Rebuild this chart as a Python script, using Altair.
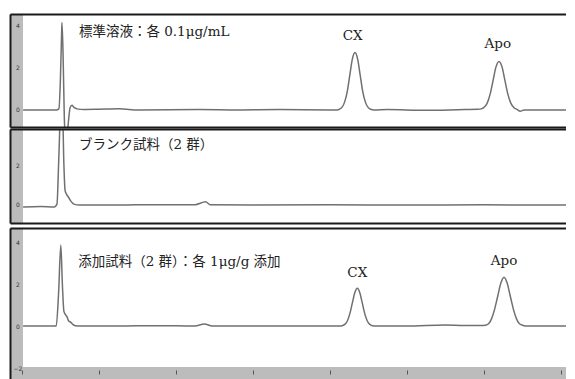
import altair as alt
import pandas as pd

# ---------------- data (time in min, detector response) ----------------
# Panel 1: standard solution
t1 = [0.04, 0.45, 0.92, 0.97, 1.01, 1.04, 1.05, 1.08, 1.11, 1.13, 1.18, 1.22, 1.26, 1.31, 1.36, 1.44,
      1.62, 2.01, 2.53, 3.05, 4.61, 5.65, 6.69, 7.99, 8.20,
      8.255, 8.32, 8.39, 8.46, 8.525, 8.59, 8.66, 8.73, 8.795, 8.86, 8.93, 9.00, 9.065, 9.15,
      9.50, 10.5, 11.5, 11.85,
      11.94, 12.01, 12.09, 12.17, 12.245, 12.32, 12.40, 12.48, 12.555, 12.63, 12.71, 12.79, 12.865,
      12.95, 13.05, 14.14]
v1 = [0.0, 0.0, 0.0, 0.05, 1.5, 3.6, 4.15, 2.5, -0.3, -1.2, -1.2, -0.5, 0.1, 0.22, 0.12, 0.05,
      0.02, 0.03, 0.05, 0.0, 0.02, 0.0, 0.02, 0.0, 0.0,
      0.03, 0.12, 0.37, 0.88, 1.65, 2.40, 2.72, 2.40, 1.65, 0.88, 0.37, 0.12, 0.03, 0.0,
      0.02, -0.02, 0.02, 0.03,
      0.05, 0.12, 0.31, 0.75, 1.39, 2.03, 2.30, 2.03, 1.39, 0.75, 0.31, 0.10, 0.03,
      -0.06, 0.0, 0.0]

# Panel 2: blank sample
t2 = [0.04, 0.5, 0.85, 0.92, 0.97, 1.02, 1.06, 1.10, 1.13, 1.17, 1.22, 1.28, 1.36, 1.5, 2.5, 3.5,
      4.5, 4.78, 4.9, 6.0, 8.0, 10.0, 12.0, 14.14]
v2 = [-0.15, -0.12, -0.15, 0.0, 2.5, 5.0, 5.0, 2.0, 0.7, 0.5, 0.35, 0.15, 0.0, -0.05, -0.05, -0.03,
      -0.04, 0.12, -0.03, -0.05, -0.04, -0.05, -0.04, -0.05]

# Panel 3: spiked sample
t3 = [0.04, 0.90, 0.96, 1.02, 1.06, 1.10, 1.14, 1.18, 1.22, 1.28, 1.35, 1.45, 2.5, 3.5, 4.5, 4.75,
      4.95, 6.5, 8.0, 8.25,
      8.33, 8.395, 8.46, 8.525, 8.59, 8.655, 8.72, 8.785, 8.85, 8.915, 8.98, 9.045, 9.11, 9.2,
      10.0, 11.0, 11.5, 11.95,
      12.04, 12.12, 12.20, 12.28, 12.365, 12.45, 12.53, 12.61, 12.695, 12.78, 12.86, 12.94, 13.03,
      13.12, 14.14]
v3 = [0.0, 0.0, 1.5, 3.86, 2.0, 0.7, 0.55, 0.45, 0.25, 0.18, 0.05, 0.0, 0.0, 0.02, 0.0, 0.1,
      0.0, 0.0, 0.0, 0.0,
      0.02, 0.08, 0.24, 0.58, 1.09, 1.59, 1.80, 1.59, 1.09, 0.58, 0.24, 0.08, 0.02, 0.0,
      0.0, 0.05, 0.03, 0.03,
      0.04, 0.10, 0.32, 0.76, 1.41, 2.06, 2.33, 2.06, 1.41, 0.76, 0.32, 0.10, 0.03,
      0.0, 0.0]

# Annotations
titles = ["標準溶液：各 0.1μg/mL", "ブランク試料（2 群）", "添加試料（2 群）：各 1μg/g 添加"]
title_t = [1.49, 1.49, 1.47]
title_v = [3.7, 3.03, 3.05]
peak_labels = ["CX", "Apo"]
peak_t1 = [8.60, 12.37]
peak_v1 = [3.5, 3.13]
peak_t3 = [8.72, 12.53]
peak_v3 = [2.52, 3.1]

# Axis ticks
y_ticks1 = [0, 2, 4]
y_ticks2 = [0, 2]
y_ticks3 = [-2, 0, 2, 4]
x_ticks = [0, 2, 4, 6, 8, 10, 12, 14]

X_DOMAIN = [-0.3, 14.14]
FONT = "DejaVu Serif, Noto Sans CJK JP"
LINE_COLOR = "#707070"
STRIP = "#bcbcbc"
BORDER = "#1a1a1a"
WIDTH = 556
STRIP_W = 13


def panel(t, v, ydom, yvals, height, titl, tt, tv, plabels=None, pt=None, pv=None,
          bottom_strip=None):
    xs = alt.Scale(domain=X_DOMAIN, nice=False, zero=False)
    ys = alt.Scale(domain=ydom, nice=False, zero=False)
    yaxis = alt.Axis(values=yvals, orient="left", domain=True, domainColor=BORDER, domainWidth=2,
                     ticks=False, tickSize=0, labelPadding=-7.5, labelAlign="center",
                     labelBaseline="middle", labelFontSize=6, labelColor="#333",
                     labelFont="DejaVu Sans", grid=False, title=None, zindex=1)
    top_axis = alt.Axis(orient="top", domain=True, domainColor=BORDER, domainWidth=2,
                        ticks=False, labels=False, grid=False, title=None, zindex=1)
    if bottom_strip is not None:
        bottom_axis = alt.Axis(orient="bottom", values=x_ticks, domain=False, labels=False,
                               ticks=True, tickSize=4, tickColor="#555", tickWidth=1,
                               offset=-(height - bottom_strip - 3), grid=False, title=None,
                               zindex=1)
    else:
        bottom_axis = alt.Axis(orient="bottom", domain=True, domainColor=BORDER, domainWidth=2,
                               ticks=False, labels=False, grid=False, title=None, zindex=1)

    one = pd.DataFrame({"k": [0]})
    layers = [alt.Chart(one).mark_rect(color=STRIP).encode(
        x=alt.value(0), x2=alt.value(STRIP_W), y=alt.value(0), y2=alt.value(height))]
    if bottom_strip is not None:
        layers.append(alt.Chart(one).mark_rect(color=STRIP).encode(
            x=alt.value(0), x2=alt.value(WIDTH), y=alt.value(bottom_strip), y2=alt.value(height)))

    df = pd.DataFrame({"t": t, "v": v})
    layers.append(alt.Chart(df).mark_line(color=LINE_COLOR, strokeWidth=1.5, clip=True,
                                          interpolate="monotone").encode(
        x=alt.X("t:Q", scale=xs, axis=bottom_axis),
        y=alt.Y("v:Q", scale=ys, axis=yaxis),
    ))
    tdf = pd.DataFrame({"label": [titl], "t": [tt], "v": [tv]})
    layers.append(alt.Chart(tdf).mark_text(align="left", baseline="middle", font=FONT,
                                           fontSize=13.5, color="#222").encode(
        x=alt.X("t:Q", scale=xs, axis=top_axis),
        y=alt.Y("v:Q", scale=ys, axis=yaxis),
        text="label:N",
    ))
    if plabels:
        pdf = pd.DataFrame({"label": plabels, "t": pt, "v": pv})
        layers.append(alt.Chart(pdf).mark_text(align="center", baseline="middle", font=FONT,
                                               fontSize=13.5, color="#222").encode(
            x=alt.X("t:Q", scale=xs, axis=None),
            y=alt.Y("v:Q", scale=ys, axis=yaxis),
            text="label:N",
        ))
    return alt.layer(*layers).resolve_axis(x="independent").properties(width=WIDTH, height=height)


p1 = panel(t1, v1, [-0.81, 4.55], y_ticks1, 113, titles[0], title_t[0], title_v[0],
           peak_labels, peak_t1, peak_v1)
p2 = panel(t2, v2, [-0.97, 3.85], y_ticks2, 94, titles[1], title_t[1], title_v[1])
p3 = panel(t3, v3, [-2.71, 4.67], y_ticks3, 155, titles[2], title_t[2], title_v[2],
           peak_labels, peak_t3, peak_v3, bottom_strip=139)

top = alt.vconcat(p1, p2, spacing=2)
chart = alt.vconcat(top, p3, spacing=5).properties(
    padding={"left": 2, "top": 6, "right": 0, "bottom": 0}
).configure_view(strokeWidth=0, strokeOpacity=0)

chart.save("out.html", embed_options={"renderer": "svg", "actions": False})
